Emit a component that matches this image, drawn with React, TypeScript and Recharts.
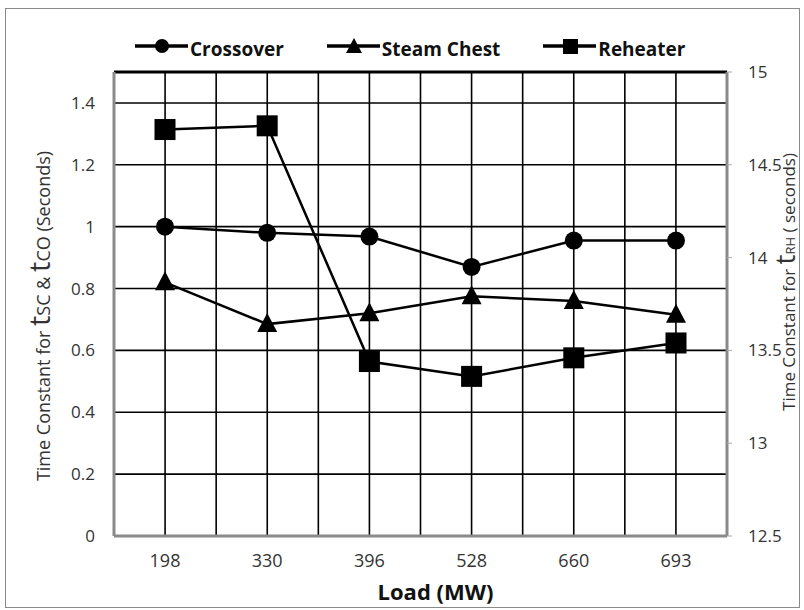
import { LineChart, Line, XAxis, YAxis, CartesianGrid, ReferenceLine, Label } from 'recharts';

const loads = ['198', '330', '396', '528', '660', '693'];
const crossover = [1.0, 0.98, 0.968, 0.87, 0.955, 0.955];
const steamChest = [0.82, 0.685, 0.72, 0.775, 0.76, 0.715];
const reheater = [14.69, 14.71, 13.44, 13.36, 13.46, 13.54];

const leftTicks = [0, 0.2, 0.4, 0.6, 0.8, 1, 1.2, 1.4];
const rightTicks = [12.5, 13, 13.5, 14, 14.5, 15];

const data = loads.map((load, i) => ({
  load,
  crossover: crossover[i],
  steamChest: steamChest[i],
  reheater: reheater[i],
}));

const FONT = '"Open Sans", Lato, sans-serif';

// vertical grid at every category centre and every category boundary
const verticalLines = ({ offset }: any) => {
  const steps = loads.length * 2;
  return Array.from({ length: steps + 1 }, (_, i) => offset.left + (offset.width * i) / steps);
};

const CircleDot = (p: any) => (
  <circle key={`c-${p.index}`} cx={p.cx} cy={p.cy} r={9} fill="#000" />
);
const TriangleDot = (p: any) => (
  <polygon
    key={`t-${p.index}`}
    points={`${p.cx},${p.cy - 11} ${p.cx + 10},${p.cy + 8} ${p.cx - 10},${p.cy + 8}`}
    fill="#000"
  />
);
const SquareDot = (p: any) => (
  <rect key={`s-${p.index}`} x={p.cx - 10.5} y={p.cy - 10.5} width={21} height={21} fill="#000" />
);

const LeftLabel = (props: any) => {
  const { viewBox } = props;
  const x = viewBox.x - 10;
  const y = viewBox.y + viewBox.height / 2 + 12;
  return (
    <text
      x={x}
      y={y}
      transform={`rotate(-90 ${x} ${y})`}
      textAnchor="middle"
      fontSize={18}
      fill="#333"
      style={{ fontFamily: FONT }}
    >
      Time Constant for <tspan fontSize={29}>t</tspan>
      <tspan fontSize={18}>SC</tspan> &amp; <tspan fontSize={29}>t</tspan>
      <tspan fontSize={18}>CO</tspan> (Seconds)
    </text>
  );
};

const RightLabel = (props: any) => {
  const { viewBox } = props;
  const x = viewBox.x + viewBox.width - 9;
  const y = viewBox.y + viewBox.height / 2 - 22;
  return (
    <text
      x={x}
      y={y}
      transform={`rotate(-90 ${x} ${y})`}
      textAnchor="middle"
      fontSize={17}
      fill="#333"
      style={{ fontFamily: FONT }}
    >
      Time Constant for <tspan fontSize={28}>t</tspan>
      <tspan fontSize={13}>RH</tspan> ( seconds)
    </text>
  );
};

const legendItems = [
  { name: 'Crossover', shape: 'circle' },
  { name: 'Steam Chest', shape: 'triangle' },
  { name: 'Reheater', shape: 'square' },
];

function LegendIcon({ shape }: { shape: string }) {
  return (
    <svg width={53} height={20} style={{ marginRight: 2, marginTop: -6 }}>
      <line x1={0} y1={10} x2={53} y2={10} stroke="#000" strokeWidth={3.5} />
      {shape === 'circle' && <circle cx={27} cy={10} r={7} fill="#000" />}
      {shape === 'triangle' && <polygon points="27,2 35,17 19,17" fill="#000" />}
      {shape === 'square' && <rect x={20} y={3} width={15} height={15} fill="#000" />}
    </svg>
  );
}

export default function App() {
  return (
    <div style={{ position: 'absolute', left: 0, top: 0, width: 804, height: 610, background: '#fff' }}>
      <div
        style={{
          position: 'absolute',
          left: 5,
          top: 8,
          width: 795,
          height: 600,
          border: '1.5px solid #8a8a8a',
          boxSizing: 'border-box',
        }}
      />
      <div
        style={{
          position: 'absolute',
          left: 135,
          top: 36,
          display: 'flex',
          alignItems: 'center',
          fontFamily: FONT,
          fontWeight: 'bold',
          fontSize: 19,
          color: '#111',
        }}
      >
        {legendItems.map((it) => (
          <div key={it.name} style={{ display: 'flex', alignItems: 'center', marginRight: 43 }}>
            <LegendIcon shape={it.shape} />
            <span>{it.name}</span>
          </div>
        ))}
      </div>
      <LineChart
        width={804}
        height={610}
        data={data}
        margin={{ top: 72, right: 0, bottom: 0, left: 60 }}
        style={{ fontFamily: FONT }}
      >
        <CartesianGrid
          yAxisId="left"
          stroke="#000"
          strokeWidth={1.6}
          horizontalValues={leftTicks}
          verticalCoordinatesGenerator={verticalLines}
        />
        <XAxis
          dataKey="load"
          padding={{ left: 51, right: 51 }}
          height={74}
          axisLine={{ stroke: '#8a8a8a', strokeWidth: 3 }}
          tickLine={false}
          tickMargin={12}
          tick={{ fontSize: 18, fill: '#333' }}
        >
          <Label value="Load (MW)" position="insideBottom" offset={10} dx={15} fontSize={22} fontWeight="bold" fill="#111" />
        </XAxis>
        <YAxis
          yAxisId="left"
          domain={[0, 1.5]}
          ticks={leftTicks}
          width={54}
          axisLine={{ stroke: '#8a8a8a', strokeWidth: 3 }}
          tickLine={false}
          tickMargin={13}
          tick={{ fontSize: 17, fill: '#333' }}
          label={{ content: LeftLabel }}
        />
        <YAxis
          yAxisId="right"
          orientation="right"
          domain={[12.5, 15]}
          ticks={rightTicks}
          width={77}
          axisLine={{ stroke: '#8a8a8a', strokeWidth: 3 }}
          tickLine={{ stroke: '#aaa' }}
          tickSize={5}
          tickMargin={16}
          tick={{ fontSize: 17, fill: '#333', textAnchor: 'start' }}
          label={{ content: RightLabel }}
        />
        <ReferenceLine yAxisId="left" y={1.5} stroke="#000" strokeWidth={3} />
        <Line yAxisId="left" dataKey="crossover" stroke="#000" strokeWidth={2.5} dot={CircleDot} isAnimationActive={false} />
        <Line yAxisId="left" dataKey="steamChest" stroke="#000" strokeWidth={2.5} dot={TriangleDot} isAnimationActive={false} />
        <Line yAxisId="right" dataKey="reheater" stroke="#000" strokeWidth={2.5} dot={SquareDot} isAnimationActive={false} />
      </LineChart>
    </div>
  );
}
